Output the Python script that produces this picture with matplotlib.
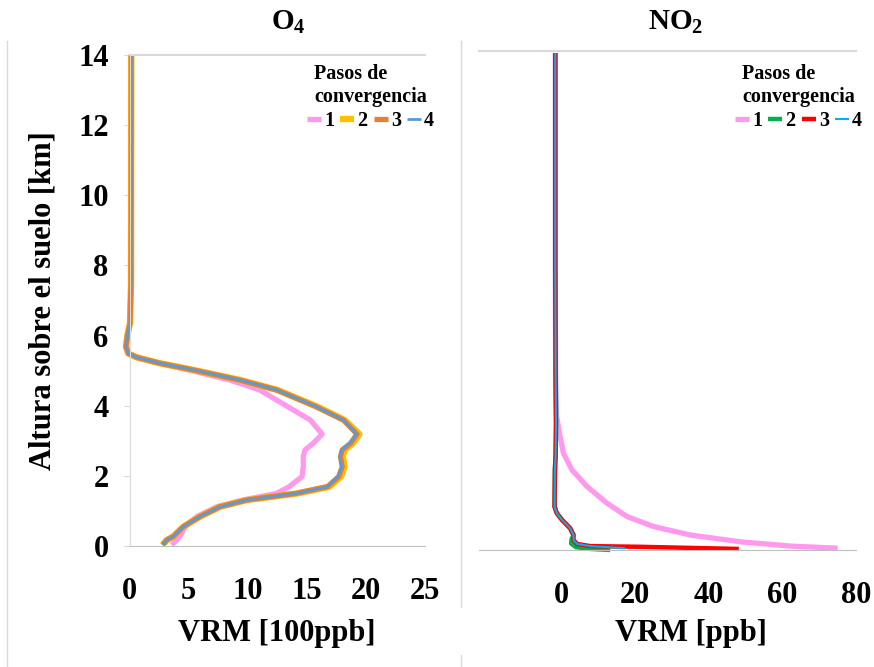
import numpy as np
import matplotlib
matplotlib.use('Agg')
import matplotlib.pyplot as plt
from matplotlib.lines import Line2D

plt.rcParams['font.family'] = ['Liberation Serif', 'DejaVu Serif']
plt.rcParams['font.weight'] = 'bold'
plt.rcParams['mathtext.fontset'] = 'custom'
plt.rcParams['mathtext.rm'] = 'Liberation Serif:bold'
plt.rcParams['mathtext.it'] = 'Liberation Serif:bold'
plt.rcParams['mathtext.bf'] = 'Liberation Serif:bold'

#######################################################
# O4 profiles (VRM in 100 ppb vs height in km)
O4_Height = [14.0, 10.0, 7.5, 6.35, 6.0, 5.68, 5.49, 5.38, 5.21, 5.02, 4.73, 4.45, 3.97, 3.59,
             3.19, 2.93, 2.74, 2.55, 2.26, 1.98, 1.69, 1.50, 1.31, 1.12, 0.84, 0.55, 0.27, 0.17, 0.03]
O4_Step1 = [0.15, 0.14, 0.13, 0.04, -0.18, -0.3, -0.1, 0.6, 2.5, 5.0, 8.5, 11.0, 13.4, 15.3,
            16.3, 15.55, 14.85, 14.7, 14.7, 14.6, 13.5, 12.45, 9.6, 7.4, 5.7, 4.7, 4.27, 4.0, 3.57]
O4_Step2 = [0.15, 0.14, 0.13, 0.04, -0.18, -0.3, -0.1, 0.6, 2.58, 5.4, 9.4, 12.5, 15.9, 18.2,
            19.45, 18.9, 18.2, 18.05, 18.2, 17.9, 16.9, 14.2, 9.9, 7.66, 5.96, 4.55, 3.7, 3.15, 2.8]
O4_Step3 = [0.15, 0.14, 0.13, 0.04, -0.18, -0.3, -0.1, 0.6, 2.58, 5.4, 9.35, 12.45, 15.8, 18.1,
            19.25, 18.7, 18.0, 17.85, 18.0, 17.7, 16.75, 14.1, 9.9, 7.66, 5.96, 4.55, 3.7, 3.15, 2.8]
O4_Step4 = [0.15, 0.14, 0.13, 0.04, -0.18, -0.3, -0.1, 0.6, 2.58, 5.4, 9.35, 12.45, 15.8, 18.1,
            19.2, 18.65, 17.95, 17.8, 17.95, 17.65, 16.7, 14.1, 9.9, 7.66, 5.96, 4.55, 3.7, 3.15, 2.8]

# NO2 profiles (VRM in ppb vs height in km)
NO2_Height1 = [14.0, 8.0, 5.0, 3.77, 3.67, 3.2, 2.73, 2.26, 1.79, 1.32, 0.94, 0.66, 0.42, 0.23, 0.11, 0.05]
NO2_Step1   = [-1.6, -1.6, -1.5, -1.3, -1.1, -0.3, 0.6, 2.9, 7.0, 12.4, 17.9, 25.1, 35.1, 48.7, 62.3, 75.0]
NO2_Height2 = [14.0, 8.0, 5.0, 3.6, 2.7, 2.26, 1.22, 1.04, 0.85, 0.61, 0.42, 0.30, 0.18, 0.08, 0.03, 0.0]
NO2_Step2   = [-1.6, -1.6, -1.5, -1.4, -1.5, -1.7, -1.8, -1.2, 0.2, 2.45, 3.35, 2.8, 2.7, 4.0, 7.9, 13.3]
NO2_Height3 = [14.0, 8.0, 5.0, 3.6, 2.7, 2.26, 1.22, 1.04, 0.85, 0.61, 0.42, 0.28, 0.17, 0.11, 0.09, 0.03]
NO2_Step3   = [-1.6, -1.6, -1.5, -1.4, -1.5, -1.7, -1.8, -1.2, 0.2, 2.45, 3.35, 3.35, 4.3, 7.9, 21.5, 48.2]
NO2_Height4 = [14.0, 8.0, 5.0, 3.6, 2.7, 2.26, 1.22, 1.04, 0.85, 0.61, 0.42, 0.28, 0.17, 0.11, 0.05]
NO2_Step4   = [-1.6, -1.6, -1.5, -1.4, -1.5, -1.7, -1.8, -1.2, 0.2, 2.45, 3.35, 3.35, 4.3, 7.9, 17.4]

Step_Labels = ['1', '2', '3', '4']
O4_Colors   = ['#FF99EE', '#FFC000', '#ED7D31', '#5B9BD5']
NO2_Colors  = ['#FF99EE', '#00B050', '#FF0000', '#00B0F0']
#######################################################

W, H = 874, 667
fig = plt.figure(figsize=(W / 100, H / 100), dpi=100)

def box(x0, y0, x1, y1):
    return [x0 / W, 1 - y1 / H, (x1 - x0) / W, (y1 - y0) / H]

Grid_Color = '#D9D9D9'
Axis_Color = '#BFBFBF'

def add_legend(ax, right_px):
    leg = ax.legend(title='Pasos de\nconvergencia', ncol=4, frameon=False,
                    loc='upper right', bbox_to_anchor=(right_px / W, 1 - 64 / H),
                    bbox_transform=fig.transFigure, fontsize=14.5,
                    title_fontproperties={'size': 14.5, 'weight': 'bold'},
                    handlelength=0.7, handletextpad=0.15, columnspacing=0.3,
                    borderpad=0, borderaxespad=0, labelspacing=0.1)
    leg._legend_box.sep = 3
    return leg

# ---------------- O4 panel ----------------
ax1 = fig.add_axes(box(129.5, 55, 425, 546))
O4_Series = [O4_Step1, O4_Step2, O4_Step3, O4_Step4]
O4_Widths = [3.8, 4.6, 3.8, 2.0]
for vals, col, lw, lab in zip(O4_Series, O4_Colors, O4_Widths, Step_Labels):
    ax1.plot(vals, O4_Height, color=col, lw=lw, label=lab, clip_on=False,
             solid_joinstyle='round', solid_capstyle='butt')
ax1.set_xlim(0, 25)
ax1.set_ylim(0, 14)
ax1.set_xticks([0, 5, 10, 15, 20, 25])
ax1.set_yticks([0, 2, 4, 6, 8, 10, 12, 14])
ax1.tick_params(axis='x', length=0, pad=22, labelsize=22)
ax1.tick_params(axis='y', length=4, color=Grid_Color, pad=11, labelsize=22)
ax1.spines['right'].set_visible(False)
ax1.spines['left'].set_color(Grid_Color)
ax1.spines['top'].set_color(Grid_Color)
ax1.spines['top'].set_linewidth(1.5)
ax1.spines['bottom'].set_color(Axis_Color)
ax1.set_ylabel('Altura sobre el suelo [km]', fontsize=22, fontweight='bold')
ax1.yaxis.set_label_coords((58 - 129.5) / 295.5, 0.5)
add_legend(ax1, 434)

# ---------------- NO2 panel ----------------
ax2 = fig.add_axes(box(479, 50.5, 856, 550))
NO2_Series = [(NO2_Step1, NO2_Height1), (NO2_Step2, NO2_Height2),
              (NO2_Step3, NO2_Height3), (NO2_Step4, NO2_Height4)]
NO2_Widths = [3.8, 3.2, 3.2, 1.5]
for (vals, hts), col, lw, lab in zip(NO2_Series, NO2_Colors, NO2_Widths, Step_Labels):
    ax2.plot(vals, hts, color=col, lw=lw, label=lab, clip_on=False,
             solid_joinstyle='round', solid_capstyle='butt')
ax2.set_xlim(-22.3, 80)
ax2.set_ylim(0, 14.07)
ax2.set_xticks([0, 20, 40, 60, 80])
ax2.set_yticks([])
ax2.tick_params(axis='x', length=0, pad=22, labelsize=22)
for s in ['left', 'right']:
    ax2.spines[s].set_visible(False)
ax2.spines['top'].set_color(Grid_Color)
ax2.spines['top'].set_linewidth(1.5)
ax2.spines['bottom'].set_color(Axis_Color)
add_legend(ax2, 862)

# titles and axis labels
fig.text(288 / W, 1 - 22 / H, r'$\mathrm{O_4}$', ha='center', va='center', fontsize=21)
fig.text(676 / W, 1 - 22 / H, r'$\mathrm{NO_2}$', ha='center', va='center', fontsize=21)
fig.text(277 / W, 1 - 633 / H, 'VRM [100ppb]', ha='center', va='center', fontsize=22, fontweight='bold')
fig.text(691 / W, 1 - 633 / H, 'VRM [ppb]', ha='center', va='center', fontsize=22, fontweight='bold')

# faint frame borders of the two original charts
fig.add_artist(Line2D([7 / W, 7 / W], [1 - 41 / H, 0], color=Grid_Color, lw=1))
fig.add_artist(Line2D([461 / W, 461 / W], [1 - 41 / H, 1 - 607 / H], color=Grid_Color, lw=1))
fig.add_artist(Line2D([461 / W, 461 / W], [1 - 655 / H, 0], color=Grid_Color, lw=1))

fig.savefig('out.png', dpi=100, facecolor='white')
